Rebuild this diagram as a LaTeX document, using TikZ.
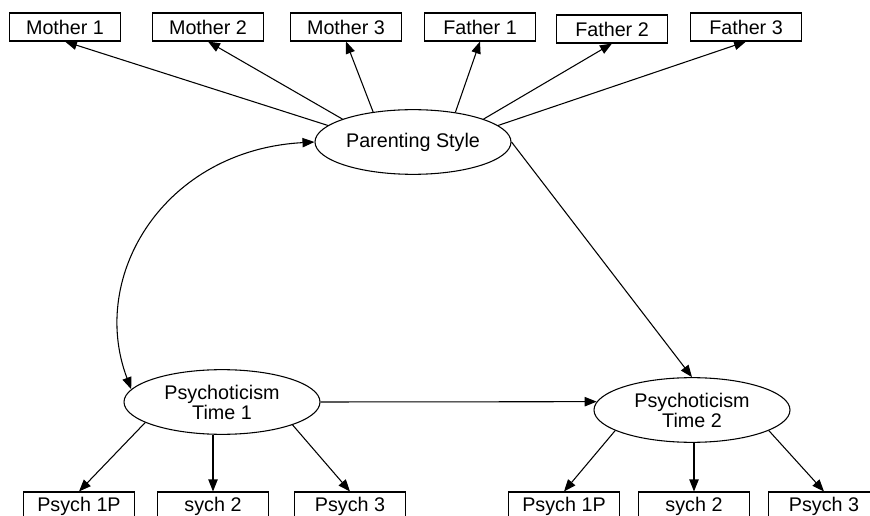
\documentclass[tikz,border=0pt]{standalone}
\usepackage{fontspec}
\setmainfont{Liberation Sans}
\usetikzlibrary{arrows.meta}
\usetikzlibrary{shapes.geometric}

\begin{document}
\begin{tikzpicture}[x=.75pt, y=-.75pt, line width=.8pt,
  >={Triangle[length=9pt,width=7pt]},
  box/.style={draw, rectangle, minimum width=83pt, minimum height=21pt, inner sep=0pt, font=\fontsize{14.8}{16}\selectfont},
  latent/.style={draw, ellipse, minimum width=147pt, minimum height=48.5pt, inner sep=0pt, align=center, font=\fontsize{14.8}{15}\selectfont}]
\clip (0,0) rectangle (870,516);
\node[latent] (ps) at (413,142) {Parenting Style};
\node[latent] (t1) at (222,402) {Psychoticism\\Time 1};
\node[latent] (t2) at (692,410) {Psychoticism\\Time 2};
\foreach \n/\x/\y/\lab in {m1/65/27/Mother 1, m2/208/27/Mother 2, m3/346/27/Mother 3, f1/480/27/Father 1, f2/612/29/Father 2, f3/746/27/Father 3}
 \node[box] (\n) at (\x,\y) {\lab};
\foreach \n/\x/\lab in {a1/79/Psych 1P, a2/213/sych 2, a3/350/Psych 3, b1/564/Psych 1P, b2/694/sych 2, b3/824/Psych 3}
 \node[box] (\n) at (\x,506) {\lab};
\foreach \n/\a in {m1/169, m2/162, m3/143, f1/35, f2/18, f3/11}
 \draw[->] (ps.\a) -- (\n.south);
\draw[<->] (ps.west) .. controls (165,150) and (88,275) .. (t1.172);
\draw[->] (ps.east) -- (t2.north);
\draw[->] (t1.east) -- (t2.175);
\draw[->] (t1.195) -- (a1.north);
\draw[->] (t1.south -| a2.north) -- (a2.north);
\draw[->] (t1.-18) -- (a3.north);
\draw[->] (t2.195) -- (b1.north);
\draw[->] (t2.south -| b2.north) -- (b2.north);
\draw[->] (t2.-15) -- (b3.north);
\end{tikzpicture}
\end{document}
